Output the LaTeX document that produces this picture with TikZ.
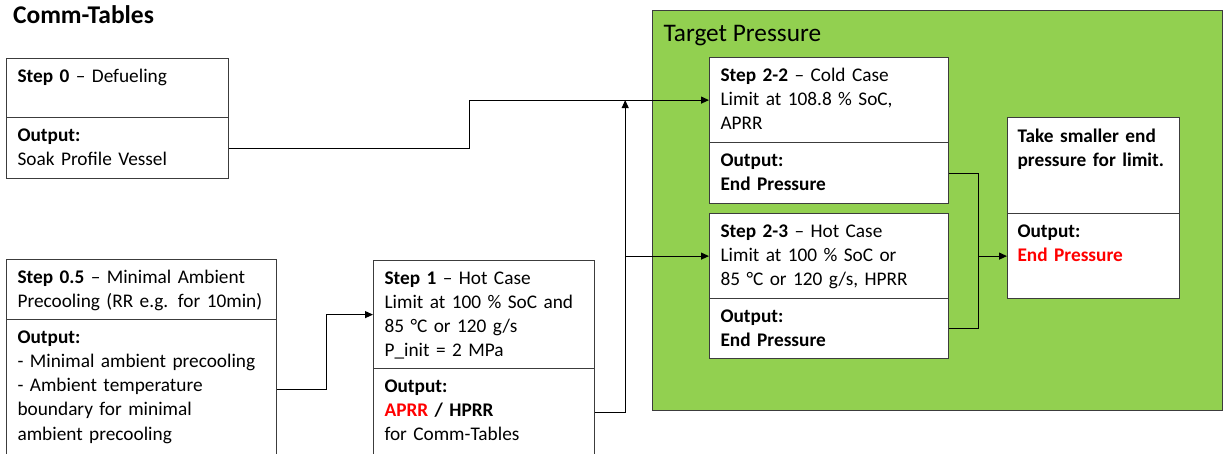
\documentclass[tikz,border=0pt]{standalone}
\usepackage{fontspec}
\setmainfont{Carlito}
\usetikzlibrary{arrows.meta}
\definecolor{areagreen}{RGB}{146,208,80}
\definecolor{boxline}{RGB}{60,60,60}
\definecolor{outred}{RGB}{255,0,0}
\tikzset{
  sec/.style={draw=boxline, line width=1.2pt, fill=white, anchor=north west, inner sep=0pt},
  txt/.style={anchor=north west, inner sep=0pt, xshift=11pt, yshift=-6.5pt, align=left,
    text width=300pt, font=\fontsize{19.3}{24.3}\selectfont,
    execute at begin node={\noindent\rule{0pt}{17pt}}},
}
\begin{document}
\begin{tikzpicture}[x=1pt, y=-1pt, >={Triangle[length=8pt,width=7pt]}, line width=1.1pt]
  \useasboundingbox (0,0) rectangle (1223,453);
  % target area
  \node[draw=boxline, line width=1pt, fill=areagreen, anchor=north west, inner sep=0pt,
    minimum width=570pt, minimum height=400pt] (target) at (652,10) {};
  \node[anchor=base west, inner sep=0pt, font=\fontsize{25.3}{30}\selectfont] (targettitle) at (663,41) {Target Pressure};
  \node[anchor=base west, inner sep=0pt, font=\fontsize{25.5}{30}\selectfont\bfseries] (title) at (12.5,23) {Comm-Tables};
  % step 0
  \node[sec, minimum width=222pt, minimum height=59pt] (s0a) at (6,58) {};
  \node[sec, minimum width=222pt, minimum height=61pt] (s0b) at (6,117) {};
  \node[txt] (s0at) at (s0a.north west) {\textbf{Step 0} – Defueling};
  \node[txt] (s0bt) at (s0b.north west) {\textbf{Output:}\\Soak Profile Vessel};
  % step 0.5
  \node[sec, minimum width=270pt, minimum height=60pt] (s05a) at (6,259) {};
  \node[sec, minimum width=270pt, minimum height=140pt] (s05b) at (6,319) {};
  \node[txt] (s05at) at (s05a.north west) {\textbf{Step 0.5} – Minimal Ambient\\Precooling (RR e.g. for 10min)};
  \node[txt] (s05bt) at (s05b.north west) {\textbf{Output:}\\- Minimal ambient precooling\\- Ambient temperature\\boundary for minimal\\ambient precooling};
  % step 1
  \node[sec, minimum width=221pt, minimum height=108pt] (s1a) at (373,260) {};
  \node[sec, minimum width=221pt, minimum height=88pt] (s1b) at (373,368) {};
  \node[txt] (s1at) at (s1a.north west) {\textbf{Step 1} – Hot Case\\Limit at 100 \% SoC and\\85 °C or 120 g/s\\P\_init = 2 MPa};
  \node[txt] (s1bt) at (s1b.north west) {\textbf{Output:}\\\textbf{\textcolor{outred}{APRR} / HPRR}\\for Comm-Tables};
  % step 2-2
  \node[sec, minimum width=239pt, minimum height=85pt] (s22a) at (709,57) {};
  \node[sec, minimum width=239pt, minimum height=61pt] (s22b) at (709,142) {};
  \node[txt] (s22at) at (s22a.north west) {\textbf{Step 2-2} – Cold Case\\Limit at 108.8 \% SoC,\\APRR};
  \node[txt] (s22bt) at (s22b.north west) {\textbf{Output:}\\\textbf{End Pressure}};
  % step 2-3
  \node[sec, minimum width=239pt, minimum height=85pt] (s23a) at (709,213) {};
  \node[sec, minimum width=239pt, minimum height=60pt] (s23b) at (709,298) {};
  \node[txt] (s23at) at (s23a.north west) {\textbf{Step 2-3} – Hot Case\\Limit at 100 \% SoC or\\85 °C or 120 g/s, HPRR};
  \node[txt] (s23bt) at (s23b.north west) {\textbf{Output:}\\\textbf{End Pressure}};
  % final limit
  \node[sec, minimum width=172pt, minimum height=96pt] (fina) at (1007,117) {};
  \node[sec, minimum width=172pt, minimum height=85pt] (finb) at (1007,213) {};
  \node[txt, xshift=-1pt, yshift=-1pt] (finat) at (fina.north west) {\textbf{Take smaller end}\\\textbf{pressure for limit.}};
  \node[txt, xshift=-1pt] (finbt) at (finb.north west) {\textbf{Output:}\\\textbf{\textcolor{outred}{End Pressure}}};
  % connectors
  \draw[->] (s0b.east) -- ++(240,0) |- (s22a.west);
  \draw[->] (s05b.east) -- ++(49,0) |- (s1a.west);
  \draw (s1b.east) -- ++(30,0) coordinate (j1);
  \draw[->] (j1) -- (j1 |- s22a.west);
  \draw[->] (j1 |- s23a.west) -- (s23a.west);
  \draw (s22b.east) -- ++(29,0) coordinate (j2) |- (s23b.east);
  \draw[->] (j2 |- finb.west) -- (finb.west);
\end{tikzpicture}
\end{document}
